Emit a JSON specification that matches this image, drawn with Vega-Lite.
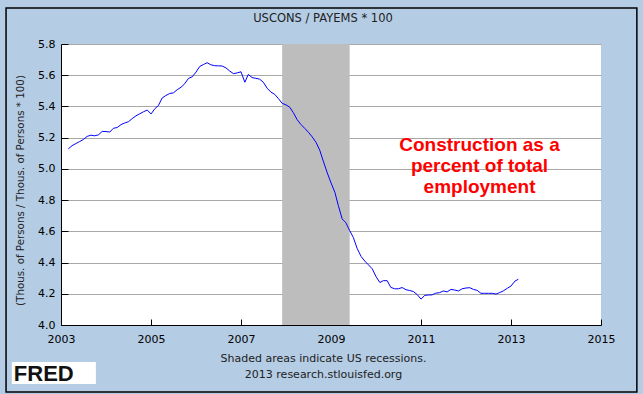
{
  "$schema": "https://vega.github.io/schema/vega-lite/v6.json",
  "width": 540,
  "height": 281,
  "autosize": "none",
  "padding": {"left": 61, "top": 44, "right": 42, "bottom": 69},
  "background": "#B4CCE4",
  "title": {"text": "USCONS / PAYEMS * 100", "fontSize": 11.5, "fontWeight": "normal", "font": "DejaVu Sans", "color": "#222", "anchor": "middle", "frame": "group", "dx": -8, "offset": -17.5},
  "config": {
    "view": {"fill": "white", "stroke": null},
    "axis": {"labelFont": "DejaVu Sans", "labelFontSize": 11, "labelColor": "#000", "domainColor": "#000", "tickColor": "#000", "titleFont": "DejaVu Sans", "titleFontWeight": "normal", "titleFontSize": 11, "titleColor": "#222", "labelFlush": false, "labelOverlap": false},
    "axisX": {"grid": false, "tickSize": -6, "labelPadding": 14, "zindex": 1, "titleX": 262, "titleY": 27, "titleBaseline": "top", "titleAlign": "center", "titleLineHeight": 16},
    "axisY": {"grid": true, "gridColor": "#A8A8A8", "gridWidth": 1, "tickSize": -7, "labelPadding": 13, "zindex": 0, "titleX": -41, "titleY": 146, "titleAngle": -90, "titleBaseline": "middle", "titleAlign": "center", "titleFontSize": 10.3}
  },
  "datasets": {
    "series": [
      {"date": "2003-03-01", "v": 5.128}, {"date": "2003-04-01", "v": 5.149}, {"date": "2003-05-01", "v": 5.162}, {"date": "2003-06-01", "v": 5.175},
      {"date": "2003-07-01", "v": 5.188}, {"date": "2003-08-01", "v": 5.208}, {"date": "2003-09-01", "v": 5.216}, {"date": "2003-10-01", "v": 5.212},
      {"date": "2003-11-01", "v": 5.218}, {"date": "2003-12-01", "v": 5.240}, {"date": "2004-01-01", "v": 5.239}, {"date": "2004-02-01", "v": 5.236},
      {"date": "2004-03-01", "v": 5.260}, {"date": "2004-04-01", "v": 5.265}, {"date": "2004-05-01", "v": 5.283}, {"date": "2004-06-01", "v": 5.294},
      {"date": "2004-07-01", "v": 5.302}, {"date": "2004-08-01", "v": 5.322}, {"date": "2004-09-01", "v": 5.340}, {"date": "2004-10-01", "v": 5.353},
      {"date": "2004-11-01", "v": 5.366}, {"date": "2004-12-01", "v": 5.377}, {"date": "2005-01-01", "v": 5.352}, {"date": "2005-02-01", "v": 5.386},
      {"date": "2005-03-01", "v": 5.405}, {"date": "2005-04-01", "v": 5.454}, {"date": "2005-05-01", "v": 5.470}, {"date": "2005-06-01", "v": 5.483},
      {"date": "2005-07-01", "v": 5.487}, {"date": "2005-08-01", "v": 5.507}, {"date": "2005-09-01", "v": 5.523}, {"date": "2005-10-01", "v": 5.545},
      {"date": "2005-11-01", "v": 5.580}, {"date": "2005-12-01", "v": 5.590}, {"date": "2006-01-01", "v": 5.620}, {"date": "2006-02-01", "v": 5.657},
      {"date": "2006-03-01", "v": 5.668}, {"date": "2006-04-01", "v": 5.680}, {"date": "2006-05-01", "v": 5.667}, {"date": "2006-06-01", "v": 5.661},
      {"date": "2006-07-01", "v": 5.660}, {"date": "2006-08-01", "v": 5.659}, {"date": "2006-09-01", "v": 5.647}, {"date": "2006-10-01", "v": 5.627},
      {"date": "2006-11-01", "v": 5.610}, {"date": "2006-12-01", "v": 5.615}, {"date": "2007-01-01", "v": 5.622}, {"date": "2007-02-01", "v": 5.555},
      {"date": "2007-03-01", "v": 5.605}, {"date": "2007-04-01", "v": 5.585}, {"date": "2007-05-01", "v": 5.580}, {"date": "2007-06-01", "v": 5.575},
      {"date": "2007-07-01", "v": 5.555}, {"date": "2007-08-01", "v": 5.517}, {"date": "2007-09-01", "v": 5.492}, {"date": "2007-10-01", "v": 5.478},
      {"date": "2007-11-01", "v": 5.450}, {"date": "2007-12-01", "v": 5.420}, {"date": "2008-01-01", "v": 5.410}, {"date": "2008-02-01", "v": 5.395},
      {"date": "2008-03-01", "v": 5.360}, {"date": "2008-04-01", "v": 5.315}, {"date": "2008-05-01", "v": 5.285}, {"date": "2008-06-01", "v": 5.260},
      {"date": "2008-07-01", "v": 5.235}, {"date": "2008-08-01", "v": 5.205}, {"date": "2008-09-01", "v": 5.170}, {"date": "2008-10-01", "v": 5.120},
      {"date": "2008-11-01", "v": 5.045}, {"date": "2008-12-01", "v": 4.975}, {"date": "2009-01-01", "v": 4.910}, {"date": "2009-02-01", "v": 4.850},
      {"date": "2009-03-01", "v": 4.765}, {"date": "2009-04-01", "v": 4.680}, {"date": "2009-05-01", "v": 4.655}, {"date": "2009-06-01", "v": 4.605},
      {"date": "2009-07-01", "v": 4.560}, {"date": "2009-08-01", "v": 4.490}, {"date": "2009-09-01", "v": 4.440}, {"date": "2009-10-01", "v": 4.410},
      {"date": "2009-11-01", "v": 4.385}, {"date": "2009-12-01", "v": 4.360}, {"date": "2010-01-01", "v": 4.310}, {"date": "2010-02-01", "v": 4.272},
      {"date": "2010-03-01", "v": 4.284}, {"date": "2010-04-01", "v": 4.284}, {"date": "2010-05-01", "v": 4.241}, {"date": "2010-06-01", "v": 4.232},
      {"date": "2010-07-01", "v": 4.232}, {"date": "2010-08-01", "v": 4.240}, {"date": "2010-09-01", "v": 4.226}, {"date": "2010-10-01", "v": 4.221},
      {"date": "2010-11-01", "v": 4.214}, {"date": "2010-12-01", "v": 4.195}, {"date": "2011-01-01", "v": 4.166}, {"date": "2011-02-01", "v": 4.190},
      {"date": "2011-03-01", "v": 4.192}, {"date": "2011-04-01", "v": 4.193}, {"date": "2011-05-01", "v": 4.204}, {"date": "2011-06-01", "v": 4.207},
      {"date": "2011-07-01", "v": 4.218}, {"date": "2011-08-01", "v": 4.212}, {"date": "2011-09-01", "v": 4.228}, {"date": "2011-10-01", "v": 4.224},
      {"date": "2011-11-01", "v": 4.218}, {"date": "2011-12-01", "v": 4.232}, {"date": "2012-01-01", "v": 4.237}, {"date": "2012-02-01", "v": 4.239},
      {"date": "2012-03-01", "v": 4.228}, {"date": "2012-04-01", "v": 4.222}, {"date": "2012-05-01", "v": 4.203}, {"date": "2012-06-01", "v": 4.203},
      {"date": "2012-07-01", "v": 4.203}, {"date": "2012-08-01", "v": 4.203}, {"date": "2012-09-01", "v": 4.198}, {"date": "2012-10-01", "v": 4.208},
      {"date": "2012-11-01", "v": 4.219}, {"date": "2012-12-01", "v": 4.235}, {"date": "2013-01-01", "v": 4.250}, {"date": "2013-02-01", "v": 4.281},
      {"date": "2013-03-01", "v": 4.293}
    ],
    "recessions": [{"start": "2007-12-01", "end": "2009-06-01"}],
    "notes": [{"label": "Construction as a\npercent of total\nemployment"}],
    "logo": [{"label": "FRED"}],
    "frame": [{"name": "border"}]
  },
  "layer": [
    {
      "data": {"name": "recessions"},
      "mark": {"type": "rect", "color": "#BDBDBD"},
      "encoding": {
        "x": {
          "field": "start", "type": "temporal",
          "scale": {"type": "utc", "domain": [{"year": 2003, "month": 1, "date": 1, "utc": true}, {"year": 2015, "month": 1, "date": 1, "utc": true}]},
          "axis": {
            "values": [{"year": 2003, "month": 1, "date": 1, "utc": true}, {"year": 2005, "month": 1, "date": 1, "utc": true}, {"year": 2007, "month": 1, "date": 1, "utc": true}, {"year": 2009, "month": 1, "date": 1, "utc": true}, {"year": 2011, "month": 1, "date": 1, "utc": true}, {"year": 2013, "month": 1, "date": 1, "utc": true}, {"year": 2015, "month": 1, "date": 1, "utc": true}],
            "format": "%Y",
            "title": ["Shaded areas indicate US recessions.", "2013 research.stlouisfed.org"]
          }
        },
        "x2": {"field": "end"}
      }
    },
    {
      "data": {"name": "series"},
      "mark": {"type": "line", "color": "#0000FF", "strokeWidth": 1, "interpolate": "linear"},
      "encoding": {
        "x": {
          "field": "date", "type": "temporal",
          "scale": {"type": "utc", "domain": [{"year": 2003, "month": 1, "date": 1, "utc": true}, {"year": 2015, "month": 1, "date": 1, "utc": true}]},
          "axis": {
            "values": [{"year": 2003, "month": 1, "date": 1, "utc": true}, {"year": 2005, "month": 1, "date": 1, "utc": true}, {"year": 2007, "month": 1, "date": 1, "utc": true}, {"year": 2009, "month": 1, "date": 1, "utc": true}, {"year": 2011, "month": 1, "date": 1, "utc": true}, {"year": 2013, "month": 1, "date": 1, "utc": true}, {"year": 2015, "month": 1, "date": 1, "utc": true}],
            "format": "%Y",
            "title": ["Shaded areas indicate US recessions.", "2013 research.stlouisfed.org"]
          }
        },
        "y": {
          "field": "v", "type": "quantitative",
          "scale": {"domain": [4.0, 5.8], "zero": false, "nice": false},
          "axis": {
            "values": [4.0, 4.2, 4.4, 4.6, 4.8, 5.0, 5.2, 5.4, 5.6, 5.8],
            "format": ".1f",
            "title": "(Thous. of Persons / Thous. of Persons * 100)"
          }
        }
      }
    },
    {
      "data": {"name": "notes"},
      "mark": {"type": "text", "color": "#FF0000", "font": "Liberation Sans", "fontWeight": "bold", "fontSize": 19, "lineBreak": "\n", "lineHeight": 21, "align": "center", "baseline": "alphabetic"},
      "encoding": {
        "x": {
          "datum": {"year": 2012, "month": 4, "date": 20, "utc": true}, "type": "temporal",
          "axis": {
            "values": [{"year": 2003, "month": 1, "date": 1, "utc": true}, {"year": 2005, "month": 1, "date": 1, "utc": true}, {"year": 2007, "month": 1, "date": 1, "utc": true}, {"year": 2009, "month": 1, "date": 1, "utc": true}, {"year": 2011, "month": 1, "date": 1, "utc": true}, {"year": 2013, "month": 1, "date": 1, "utc": true}, {"year": 2015, "month": 1, "date": 1, "utc": true}],
            "format": "%Y",
            "title": ["Shaded areas indicate US recessions.", "2013 research.stlouisfed.org"]
          }
        },
        "y": {
          "datum": 5.115, "type": "quantitative",
          "axis": {
            "values": [4.0, 4.2, 4.4, 4.6, 4.8, 5.0, 5.2, 5.4, 5.6, 5.8],
            "format": ".1f",
            "title": "(Thous. of Persons / Thous. of Persons * 100)"
          }
        },
        "text": {"field": "label", "type": "nominal"}
      }
    },
    {
      "data": {"name": "logo"},
      "mark": {"type": "rect", "color": "white"},
      "encoding": {
        "x": {
          "datum": {"year": 2001, "month": 11, "date": 28, "utc": true}, "type": "temporal",
          "axis": {
            "values": [{"year": 2003, "month": 1, "date": 1, "utc": true}, {"year": 2005, "month": 1, "date": 1, "utc": true}, {"year": 2007, "month": 1, "date": 1, "utc": true}, {"year": 2009, "month": 1, "date": 1, "utc": true}, {"year": 2011, "month": 1, "date": 1, "utc": true}, {"year": 2013, "month": 1, "date": 1, "utc": true}, {"year": 2015, "month": 1, "date": 1, "utc": true}],
            "format": "%Y",
            "title": ["Shaded areas indicate US recessions.", "2013 research.stlouisfed.org"]
          }
        },
        "x2": {"datum": {"year": 2003, "month": 10, "date": 11, "utc": true}},
        "y": {
          "datum": 3.763, "type": "quantitative",
          "axis": {
            "values": [4.0, 4.2, 4.4, 4.6, 4.8, 5.0, 5.2, 5.4, 5.6, 5.8],
            "format": ".1f",
            "title": "(Thous. of Persons / Thous. of Persons * 100)"
          }
        },
        "y2": {"datum": 3.622}
      }
    },
    {
      "data": {"name": "logo"},
      "mark": {"type": "text", "color": "#111", "font": "Liberation Sans", "fontWeight": "bold", "fontSize": 22, "align": "left", "baseline": "alphabetic"},
      "encoding": {
        "x": {
          "datum": {"year": 2001, "month": 12, "date": 14, "utc": true}, "type": "temporal",
          "axis": {
            "values": [{"year": 2003, "month": 1, "date": 1, "utc": true}, {"year": 2005, "month": 1, "date": 1, "utc": true}, {"year": 2007, "month": 1, "date": 1, "utc": true}, {"year": 2009, "month": 1, "date": 1, "utc": true}, {"year": 2011, "month": 1, "date": 1, "utc": true}, {"year": 2013, "month": 1, "date": 1, "utc": true}, {"year": 2015, "month": 1, "date": 1, "utc": true}],
            "format": "%Y",
            "title": ["Shaded areas indicate US recessions.", "2013 research.stlouisfed.org"]
          }
        },
        "y": {
          "datum": 3.641, "type": "quantitative",
          "axis": {
            "values": [4.0, 4.2, 4.4, 4.6, 4.8, 5.0, 5.2, 5.4, 5.6, 5.8],
            "format": ".1f",
            "title": "(Thous. of Persons / Thous. of Persons * 100)"
          }
        },
        "text": {"field": "label", "type": "nominal"}
      }
    },
    {
      "data": {"name": "frame"},
      "mark": {"type": "rect", "fill": null, "fillOpacity": 0, "stroke": "#000", "strokeWidth": 1.5},
      "encoding": {
        "x": {
          "datum": {"year": 2001, "month": 10, "date": 12, "utc": true}, "type": "temporal",
          "axis": {
            "values": [{"year": 2003, "month": 1, "date": 1, "utc": true}, {"year": 2005, "month": 1, "date": 1, "utc": true}, {"year": 2007, "month": 1, "date": 1, "utc": true}, {"year": 2009, "month": 1, "date": 1, "utc": true}, {"year": 2011, "month": 1, "date": 1, "utc": true}, {"year": 2013, "month": 1, "date": 1, "utc": true}, {"year": 2015, "month": 1, "date": 1, "utc": true}],
            "format": "%Y",
            "title": ["Shaded areas indicate US recessions.", "2013 research.stlouisfed.org"]
          }
        },
        "x2": {"datum": {"year": 2015, "month": 10, "date": 19, "utc": true}},
        "y": {
          "datum": 6.031, "type": "quantitative",
          "axis": {
            "values": [4.0, 4.2, 4.4, 4.6, 4.8, 5.0, 5.2, 5.4, 5.6, 5.8],
            "format": ".1f",
            "title": "(Thous. of Persons / Thous. of Persons * 100)"
          }
        },
        "y2": {"datum": 3.571}
      }
    }
  ]
}
